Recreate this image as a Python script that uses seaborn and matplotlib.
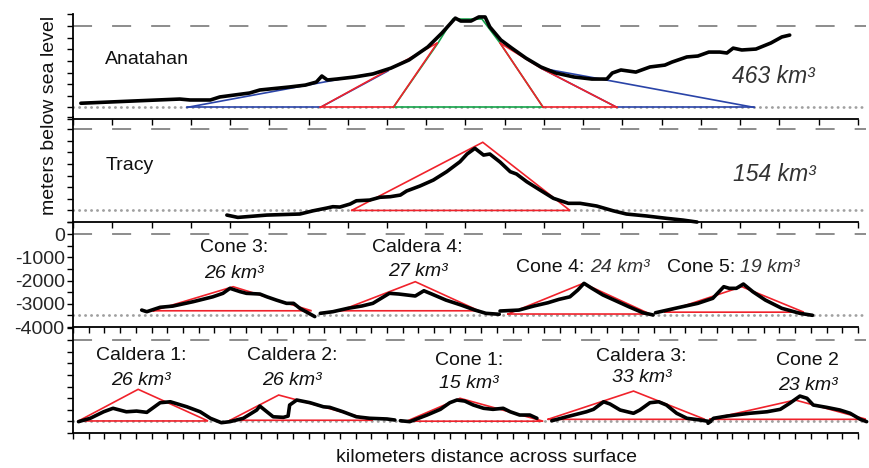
import matplotlib
matplotlib.use("Agg")
import matplotlib.pyplot as plt
import numpy as np
import pandas as pd
import seaborn as sns

# ------------------------------------------------------------------ data
# Panel 1 : Anatahan bathymetric profile (km, m)
anatahan_km = [1.0, 7.6, 13.6, 14.9, 17.5, 18.7, 22.5, 23.8, 27.6, 29.6,
               31.0, 31.7, 32.4, 33.6, 35.9, 38.2, 40.5, 42.8, 45.2, 47.0,
               48.7, 49.4, 50.7, 51.7, 52.5, 53.1, 54.5, 55.9, 57.7, 59.6,
               61.5, 63.8, 66.1, 68.0, 68.7, 69.8, 71.7, 73.5, 75.4, 76.3,
               78.2, 79.6, 81.0, 82.4, 83.3, 84.1, 85.2, 87.0, 88.9, 90.3, 91.3]
anatahan_m = [-3320, -3225, -3140, -3180, -3180, -3050, -2880, -2750, -2620, -2540,
              -2410, -2150, -2320, -2280, -2190, -2060, -1810, -1460, -900, -300,
              340, 215, 215, 390, 390, -40, -600, -950, -1380, -1760,
              -2020, -2190, -2280, -2280, -2020, -1890, -1980, -1760, -1680, -1550,
              -1330, -1290, -1120, -1120, -1160, -950, -1030, -990, -730, -470, -390]
anatahan_blue = [[(14.5, -3500), (33.4, -2320), (40.1, -1935)],
                 [(31.5, -3500), (40.1, -1935)],
                 [(59.6, -1810), (69.3, -3500)],
                 [(59.6, -1810), (67.9, -2320), (86.8, -3500)],
                 [(14.5, -3500), (31.5, -3500)],
                 [(69.3, -3500), (86.8, -3500)]]
anatahan_green = [[(40.8, -3500), (46.5, -730), (48.4, 300), (52.1, 300),
                   (54.4, -730), (59.9, -3500)],
                  [(40.8, -3500), (59.9, -3500)]]
anatahan_red = [[(31.5, -3500), (46.4, -730)],
                [(40.8, -3500), (46.4, -730)],
                [(54.4, -730), (59.9, -3500)],
                [(54.4, -730), (59.6, -1810), (69.3, -3500)],
                [(31.5, -3500), (40.8, -3500)],
                [(59.9, -3500), (69.3, -3500)]]

# Panel 2 : Tracy
tracy_km = [19.6, 21.0, 24.7, 28.9, 30.6, 32.3, 33.1, 34.0, 35.3, 36.1,
            37.8, 39.1, 40.4, 41.7, 42.5, 44.2, 45.9, 47.6, 49.3, 50.2,
            51.2, 52.3, 53.1, 54.4, 55.7, 56.5, 57.8, 59.5, 61.2, 63.1,
            64.6, 66.7, 68.8, 70.5, 73.1, 75.6, 77.7, 79.5]
tracy_m = [-3700, -3800, -3700, -3655, -3515, -3400, -3340, -3355, -3225, -3085,
           -3055, -2935, -2910, -2840, -2665, -2450, -2195, -1835, -1405, -1075,
           -830, -1120, -1075, -1420, -1835, -1935, -2265, -2625, -2980, -3195,
           -3195, -3310, -3515, -3655, -3740, -3840, -3915, -4000]
tracy_red = [[(35.5, -3500), (52.2, -570), (63.3, -3500), (35.5, -3500)]]

# Panel 3 : Cone 3, Caldera 4, Cone 4, Cone 5
cone3_km = [8.75, 9.4, 11.1, 12.7, 15.3, 17.8, 19.1, 20.0, 20.4, 21.3,
            22.1, 23.8, 24.7, 25.9, 27.2, 28.1, 28.9, 30.8]
cone3_m = [-3270, -3340, -3150, -3100, -2910, -2700, -2550, -2335, -2380, -2480,
           -2550, -2580, -2700, -2840, -2980, -2980, -3195, -3550]
caldera4_km = [31.5, 33.1, 35.0, 36.8, 38.2, 40.3, 41.5, 43.6, 44.7, 45.7,
               47.5, 49.4, 51.2, 52.6, 54.3]
caldera4_m = [-3410, -3340, -3195, -3095, -2980, -2550, -2580, -2665, -2440, -2580,
              -2840, -3050, -3270, -3410, -3450]
cone4_km = [54.4, 56.8, 58.7, 60.5, 61.9, 63.3, 64.3, 65.1, 66.1, 67.5,
            69.4, 70.8, 72.6, 73.9]
cone4_m = [-3310, -3270, -3095, -2955, -2810, -2700, -2410, -2120, -2335, -2620,
           -2910, -3125, -3385, -3480]
cone5_km = [74.2, 77.3, 79.6, 81.5, 82.9, 83.6, 84.5, 85.4, 86.6, 88.2,
            90.3, 92.6, 94.2]
cone5_m = [-3385, -3150, -2980, -2765, -2265, -2335, -2335, -2150, -2480, -2840,
           -3195, -3410, -3495]
panel3_red = [[(10.2, -3300), (20.4, -2265), (30.4, -3300), (10.2, -3300)],
              [(34.0, -3300), (43.6, -2050), (51.7, -3300), (34.0, -3300)],
              [(55.4, -3440), (65.0, -2120), (73.5, -3440), (55.4, -3440)],
              [(75.4, -3360), (85.2, -2265), (93.1, -3360), (75.4, -3360)]]

# Panel 4 : Caldera 1-2, Cone 1, Caldera 3, Cone 2
caldera12_km = [0.7, 2.2, 3.9, 5.1, 6.8, 8.1, 9.4, 11.1, 12.4, 14.5,
                16.2, 17.5, 18.9, 20.0, 21.7, 23.4, 23.8, 24.7, 25.5, 26.8,
                27.4, 27.6, 28.5, 30.2, 31.9, 32.7, 34.4, 36.1, 37.8, 40.0, 41.0]
caldera12_m = [-3510, -3365, -3085, -2935, -3085, -3055, -3110, -2695, -2655, -2870,
               -3085, -3365, -3555, -3510, -3365, -3010, -2840, -3085, -3300, -3325,
               -3270, -2795, -2580, -2695, -2870, -2895, -3085, -3300, -3365, -3395, -3440]
cone1_km = [41.7, 42.9, 45.1, 46.8, 48.0, 48.9, 49.9, 51.0, 52.3, 53.5,
            54.8, 55.7, 56.9, 58.2, 59.1]
cone1_m = [-3470, -3510, -3225, -2980, -2695, -2580, -2625, -2795, -2935, -2980,
           -2935, -3085, -3225, -3225, -3365]
caldera3_km = [61.0, 62.9, 65.4, 66.3, 67.6, 68.4, 69.7, 71.4, 72.2, 73.5,
               74.6, 75.6, 76.9, 78.2, 79.9, 81.2]
caldera3_m = [-3470, -3300, -3085, -2980, -2655, -2750, -3010, -3150, -3010, -2695,
              -2655, -2795, -3150, -3365, -3440, -3510]
cone2_km = [80.9, 81.6, 83.3, 86.2, 88.4, 90.1, 91.3, 92.6, 93.5, 94.3,
            96.0, 97.7, 99.0, 100.3, 101.1]
cone2_m = [-3580, -3365, -3270, -3150, -3085, -2980, -2720, -2410, -2505, -2795,
           -2895, -3010, -3150, -3410, -3510]
panel4_red = [[(0.7, -3480), (8.3, -2120), (17.2, -3480), (0.7, -3480)],
              [(20.0, -3450), (26.2, -2365), (38.2, -3450), (20.0, -3450)],
              [(42.5, -3490), (49.3, -2505), (59.9, -3490), (42.5, -3490)],
              [(60.5, -3410), (71.4, -2195), (80.5, -3410), (60.5, -3410)],
              [(81.1, -3410), (92.0, -2580), (101.1, -3410), (81.1, -3410)]]

sea_level = 0
base_level = -3500
y_ticks = list(range(-4000, 501, 500))
y_labels_p3 = ["-4000", "", "-3000", "", "-2000", "", "-1000", "", "0", ""]

# ------------------------------------------------------------------ style
sns.set_theme(style="ticks")
plt.rcParams["font.family"] = ["Liberation Sans", "DejaVu Sans"]

RED = "#f0222b"
BLUE = "#2a44a8"
GREEN = "#15a34a"
DASH = "#8c8c8c"
DOT = "#a0a0a0"

W, H = 869, 468
fig = plt.figure(figsize=(W / 100, H / 100), dpi=100)

left_px = 73
px_per_km = 7.85
px_per_m = 1 / 43.0
xmax = 101
ymin, ymax = -4000, 500
h_px = (ymax - ymin) * px_per_m
tops = [14.4, 117.4, 222.4, 328.4]


def segments_df(segs):
    rows = []
    for i, (xs, ys) in enumerate(segs):
        for x, y in zip(xs, ys):
            rows.append((i, x, y))
    return pd.DataFrame(rows, columns=["seg", "km", "m"])


def draw_lines(ax, lines, color, lw=1.2, z=3):
    for ln in lines:
        xs = [p[0] for p in ln]
        ys = [p[1] for p in ln]
        ax.plot(xs, ys, color=color, lw=lw, zorder=z, solid_joinstyle="miter")


axes = []
for i, t in enumerate(tops):
    ax = fig.add_axes([left_px / W, 1 - (t + h_px) / H, xmax * px_per_km / W, h_px / H])
    ax.set_facecolor("none")
    ax.set_xlim(0, xmax)
    ax.set_ylim(ymin, ymax)
    for s in ["top", "right"]:
        ax.spines[s].set_visible(False)
    for s in ["left", "bottom"]:
        ax.spines[s].set_color("black")
        ax.spines[s].set_linewidth(1.3)
    ax.spines["bottom"].set_bounds(0, 100)
    ax.spines["left"].set_bounds(ymin, ymax)
    ax.set_yticks(y_ticks)
    step = 5 if i < 2 else 2
    ax.set_xticks(np.arange(0, 100.1, step))
    ax.tick_params(axis="both", direction="out", length=4, width=1.0, color="black",
                   labelbottom=False, labelleft=(i == 2), labelsize=14, pad=2)
    if i == 2:
        ax.set_yticklabels(y_labels_p3)
    ax.axhline(sea_level, color=DASH, lw=1.4, ls=(0, (9.8, 10.3)), zorder=1)
    ax.axhline(base_level, color=DOT, lw=2.0, ls=(0, (0.1, 2.05)),
               dash_capstyle="round", zorder=1)
    axes.append(ax)

profiles = [
    [(anatahan_km, anatahan_m)],
    [(tracy_km, tracy_m)],
    [(cone3_km, cone3_m), (caldera4_km, caldera4_m), (cone4_km, cone4_m), (cone5_km, cone5_m)],
    [(caldera12_km, caldera12_m), (cone1_km, cone1_m), (caldera3_km, caldera3_m), (cone2_km, cone2_m)],
]

draw_lines(axes[0], anatahan_blue, BLUE)
draw_lines(axes[0], anatahan_green, GREEN)
draw_lines(axes[0], anatahan_red, RED)
draw_lines(axes[1], tracy_red, RED)
draw_lines(axes[2], panel3_red, RED)
draw_lines(axes[3], panel4_red, RED)

for ax, segs in zip(axes, profiles):
    df = segments_df(segs)
    sns.lineplot(data=df, x="km", y="m", units="seg", estimator=None, sort=False,
                 color="black", linewidth=2.6, ax=ax, legend=False, zorder=5,
                 solid_capstyle="round", solid_joinstyle="round", clip_on=False)
    ax.set_xlabel("")
    ax.set_ylabel("")

# ------------------------------------------------------------------ text
TXT = "#111111"
FS = 14
a0, a1, a2, a3 = axes
a0.text(4.1, -1450, "Anatahan", fontsize=FS, color=TXT, ha="left", va="center")
a0.text(83.9, -2150, "463 km³", fontsize=16.5, style="italic", color="#333333",
        ha="left", va="center")
a1.text(4.1, -1550, "Tracy", fontsize=FS, color=TXT, ha="left", va="center")
a1.text(84.1, -1935, "154 km³", fontsize=16.5, style="italic", color="#333333",
        ha="left", va="center")

a2.text(20.5, -600, "Cone 3:", fontsize=FS, color=TXT, ha="center", va="center")
a2.text(20.5, -1680, "26 km³", fontsize=FS, style="italic", color=TXT, ha="center", va="center")
a2.text(43.9, -600, "Caldera 4:", fontsize=FS, color=TXT, ha="center", va="center")
a2.text(43.9, -1590, "27 km³", fontsize=FS, style="italic", color=TXT, ha="center", va="center")
a2.text(65.2, -1420, "Cone 4:", fontsize=FS, color=TXT, ha="right", va="center")
a2.text(65.9, -1420, "24 km³", fontsize=FS, style="italic", color="#333333", ha="left", va="center")
a2.text(84.3, -1420, "Cone 5:", fontsize=FS, color=TXT, ha="right", va="center")
a2.text(85.0, -1420, "19 km³", fontsize=FS, style="italic", color="#333333", ha="left", va="center")

a3.text(8.7, -645, "Caldera 1:", fontsize=FS, color=TXT, ha="center", va="center")
a3.text(8.7, -1720, "26 km³", fontsize=FS, style="italic", color=TXT, ha="center", va="center")
a3.text(27.9, -645, "Caldera 2:", fontsize=FS, color=TXT, ha="center", va="center")
a3.text(27.9, -1720, "26 km³", fontsize=FS, style="italic", color=TXT, ha="center", va="center")
a3.text(50.4, -860, "Cone 1:", fontsize=FS, color=TXT, ha="center", va="center")
a3.text(50.4, -1850, "15 km³", fontsize=FS, style="italic", color=TXT, ha="center", va="center")
a3.text(72.4, -690, "Caldera 3:", fontsize=FS, color=TXT, ha="center", va="center")
a3.text(72.4, -1630, "33 km³", fontsize=FS, style="italic", color=TXT, ha="center", va="center")
a3.text(93.6, -900, "Cone 2", fontsize=FS, color=TXT, ha="center", va="center")
a3.text(93.6, -1935, "23 km³", fontsize=FS, style="italic", color=TXT, ha="center", va="center")

fig.text(50 / W, 1 - 115 / H, "meters below sea level", rotation=90, fontsize=FS,
         color=TXT, ha="center", va="center")
fig.text(487 / W, 1 - 458 / H, "kilometers distance across surface", fontsize=FS,
         color=TXT, ha="center", va="center")

fig.savefig("out.png", dpi=100)
